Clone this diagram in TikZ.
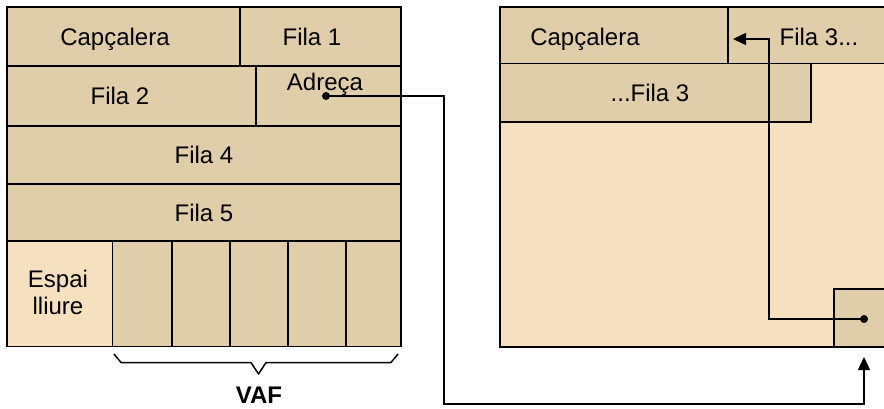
\documentclass[tikz,border=0pt]{standalone}
\usepackage{fontspec}
\setmainfont{Liberation Sans}
\usetikzlibrary{arrows.meta}
\definecolor{tandark}{RGB}{224,205,170}
\definecolor{tanlight}{RGB}{245,225,192}
\begin{document}
\begin{tikzpicture}[x=1pt,y=-1pt,
  cell/.style={draw=black,line width=1.5pt,fill=tandark},
  free/.style={draw=black,line width=1.5pt,fill=tanlight},
  lbl/.style={font=\fontsize{24}{27}\selectfont,inner sep=0pt,anchor=base},
  bold/.style={font=\fontsize{24}{27}\selectfont\bfseries,inner sep=0pt,anchor=base},
  dot/.style={circle,fill=black,inner sep=0pt,minimum size=8pt},
  conn/.style={draw=black,line width=1.5pt},
  tip/.style={-{Triangle[length=13pt,width=12pt]}}]
\useasboundingbox (0,0) rectangle (884,408);
\clip (0,0) rectangle (884,408);
% left block
\path[cell] (7,7) rectangle (240,66);
\path[cell] (240,7) rectangle (401,66);
\path[cell] (7,66) rectangle (256,126);
\path[cell] (256,66) rectangle (401,126);
\path[cell] (7,126) rectangle (401,184);
\path[cell] (7,184) rectangle (401,241);
\path[free] (7,241) rectangle (112.5,346.5);
\foreach \a/\b in {112.5/172,172/230,230/288,288/346,346/401}
  \path[cell] (\a,241) rectangle (\b,346.5);
\node[lbl] (capL) at (115,45) {Capçalera};
\node[lbl] (f1) at (312,45) {Fila 1};
\node[lbl] (f2) at (120,104) {Fila 2};
\node[lbl] (adr) at (325,90.5) {Adreça};
\node[lbl] (f4) at (204,163) {Fila 4};
\node[lbl] (f5) at (204,221) {Fila 5};
\node[lbl] (esp) at (58,287) {Espai};
\node[lbl] (ll) at (58,314) {lliure};
% brace
\draw[line width=1.5pt,line join=round] (114,354) -- (121,362.5) -- (251,362.5) -- (258.5,374) -- (266,362.5) -- (391,362.5) -- (398,354);
\node[bold] (vaf) at (259,403) {VAF};
% right block
\path[free] (500,7) rectangle (900,347);
\path[cell] (500,7) rectangle (728,63.5);
\path[cell] (728,7) rectangle (900,63.5);
\path[cell] (500,63.5) rectangle (811,122);
\path[cell] (834,289) rectangle (900,347);
\node[lbl] (capR) at (585,45) {Capçalera};
\node[lbl] (f3a) at (819,45) {Fila 3...};
\node[lbl] (f3b) at (650,101.5) {...Fila 3};
% connectors
\node[dot] (d1) at (326,96) {};
\node[dot] (d2) at (864,319) {};
\coordinate (bot) at (444,404);
\coordinate (t1) at (864,357);
\coordinate (bend) at (769,39);
\coordinate (t2) at (733,39);
\draw[conn,tip] (d1.center) -| (bot) -| (t1);
\draw[conn,tip] (d2.center) -| (bend) -- (t2);
\end{tikzpicture}
\end{document}
